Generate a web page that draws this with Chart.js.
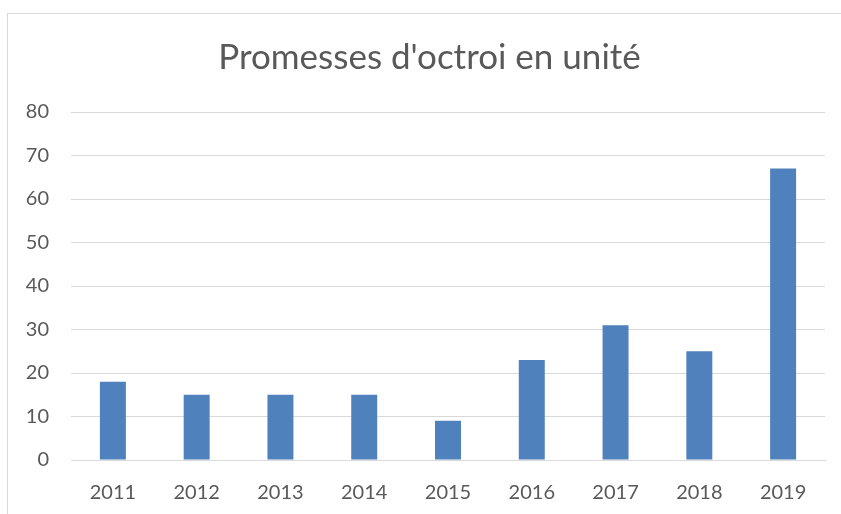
<!DOCTYPE html>
<html>
<head>
<meta charset="utf-8">
<script src="https://cdn.jsdelivr.net/npm/chart.js@4.4.0/dist/chart.umd.min.js"></script>
<style>
  html, body { margin: 0; padding: 0; background: #fff; }
  #wrap { width: 841px; height: 514px; }
</style>
</head>
<body>
<div id="wrap"><canvas id="myChart" width="841" height="514"></canvas></div>
<script>
const years = ["2011", "2012", "2013", "2014", "2015", "2016", "2017", "2018", "2019"];
const promesses = [18, 15, 15, 15, 9, 23, 31, 25, 67];
const yTicks = [0, 10, 20, 30, 40, 50, 60, 70, 80];

const frame = {
  id: "frame",
  beforeDraw(chart) {
    const c = chart.ctx;
    c.save();
    c.fillStyle = "#fff";
    c.fillRect(0, 0, chart.width, chart.height);
    c.strokeStyle = "#d9d9d9";
    c.lineWidth = 1;
    c.strokeRect(7.5, 13.5, chart.width, chart.height);
    c.restore();
  },
};

const myChart = new Chart("myChart", {
  type: "bar",
  data: {
    labels: years,
    datasets: [
      {
        label: "Promesses d'octroi",
        data: promesses,
        backgroundColor: "#4f81bd",
        barPercentage: 0.62,
        categoryPercentage: 0.5,
      },
    ],
  },
  options: {
    responsive: false,
    animation: false,
    layout: { padding: { left: 18, right: 0, top: 0, bottom: 0 } },
    plugins: {
      legend: { display: false },
      tooltip: { enabled: false },
      title: {
        display: true,
        text: "Promesses d'octroi en unité",
        color: "#595959",
        font: { family: "Lato", size: 35, weight: "normal" },
        padding: { top: 37, bottom: 33 },
      },
    },
    scales: {
      x: {
        grid: { display: false, drawTicks: false },
        border: { display: true, color: "#d9d9d9", width: 1 },
        ticks: {
          color: "#595959",
          font: { family: "Lato", size: 20 },
          padding: 21,
          maxRotation: 0,
        },
        afterFit(scale) { scale.height = 54; },
      },
      y: {
        min: 0,
        max: 80,
        afterBuildTicks(scale) { scale.ticks = yTicks.map(v => ({ value: v })); },
        grid: { color: "#d9d9d9", drawTicks: false },
        border: { display: false },
        ticks: {
          color: "#595959",
          font: { family: "Lato", size: 20 },
          padding: 22,
        },
        afterFit(scale) { scale.width = 53; },
      },
      yRight: {
        position: "right",
        display: true,
        grid: { display: false, drawTicks: false },
        border: { display: false },
        ticks: { display: false },
        afterFit(scale) { scale.width = 16; },
      },
    },
  },
  plugins: [frame],
});
</script>
</body>
</html>
